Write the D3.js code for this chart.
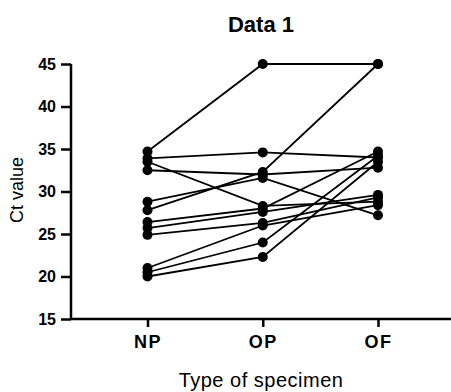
<!DOCTYPE html>
<html>
<head>
<meta charset="utf-8">
<script src="https://cdn.jsdelivr.net/npm/d3@7"></script>
<style>
  body { margin: 0; background: #fff; }
  svg { font-family: Arial, "Liberation Sans", sans-serif; }
</style>
</head>
<body>
<svg width="451" height="392"></svg>
<script>
var categories = ["NP", "OP", "OF"];
var yTicks = [15, 20, 25, 30, 35, 40, 45];

// one row per subject: Ct value for NP, OP, OF
var npValues = [34.7, 33.9, 33.5, 32.5, 28.8, 27.8, 26.4, 25.7, 24.9, 21.0, 20.5, 20.0];
var opValues = [45.0, 34.6, 28.3, 32.0, 31.6, 32.3, 28.0, 27.6, 26.3, 26.0, 24.0, 22.3];
var ofValues = [45.0, 34.0, 28.8, 32.8, 27.2, 45.0, 34.7, 29.6, 29.3, 28.4, 34.2, 33.5];

var subjects = npValues.map(function(d, i) {
  return [npValues[i], opValues[i], ofValues[i]];
});

var svg = d3.select("svg");

var x = d3.scalePoint()
  .domain(categories)
  .range([147.5, 378]);

var y = d3.scaleLinear()
  .domain([15, 45])
  .range([319, 64]);

// axes
var yAxis = svg.append("g")
  .attr("transform", "translate(71,0)")
  .call(d3.axisLeft(y).tickValues(yTicks).tickSize(10).tickPadding(5));

var xAxis = svg.append("g")
  .attr("transform", "translate(0,319)")
  .call(d3.axisBottom(x).tickSize(8).tickPadding(8));

xAxis.select(".domain").attr("d", "M71,0H451");
yAxis.select(".domain").attr("d", "M0,64V319");

svg.selectAll(".domain, .tick line")
  .attr("stroke", "#000")
  .attr("stroke-width", 2.5);

yAxis.selectAll(".tick text")
  .attr("fill", "#000")
  .style("font-size", "16px")
  .style("font-weight", "bold");

xAxis.selectAll(".tick text")
  .attr("fill", "#000")
  .style("font-size", "18px")
  .style("font-weight", "bold")
  .style("letter-spacing", "1.5px");

// lines
var line = d3.line()
  .x(function(d, i) { return x(categories[i]); })
  .y(function(d) { return y(d); });

svg.selectAll(".subject")
  .data(subjects)
  .enter().append("path")
  .attr("class", "subject")
  .attr("d", line)
  .attr("fill", "none")
  .attr("stroke", "#000")
  .attr("stroke-width", 1.8);

// points
subjects.forEach(function(s) {
  svg.selectAll(null)
    .data(s)
    .enter().append("circle")
    .attr("cx", function(d, i) { return x(categories[i]); })
    .attr("cy", function(d) { return y(d); })
    .attr("r", 5)
    .attr("fill", "#000");
});

// titles
svg.append("text")
  .attr("x", 261)
  .attr("y", 32)
  .attr("text-anchor", "middle")
  .attr("fill", "#000")
  .style("font-size", "22px")
  .style("font-weight", "bold")
  .text("Data 1");

svg.append("text")
  .attr("x", 261)
  .attr("y", 387)
  .attr("text-anchor", "middle")
  .attr("fill", "#000")
  .style("font-size", "20px")
  .style("letter-spacing", "0.5px")
  .text("Type of specimen");

svg.append("text")
  .attr("transform", "translate(23,190) rotate(-90)")
  .attr("text-anchor", "middle")
  .attr("fill", "#000")
  .style("font-size", "18px")
  .text("Ct value");
</script>
</body>
</html>
